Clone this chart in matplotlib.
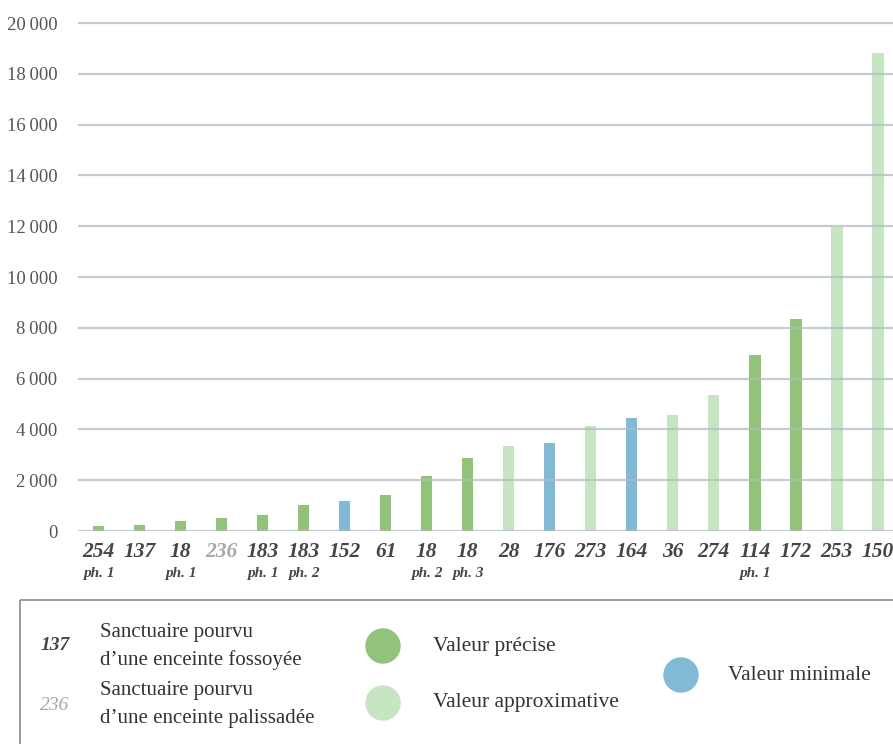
import matplotlib
matplotlib.use("Agg")
import matplotlib.pyplot as plt
from matplotlib.patches import Circle, Rectangle
import matplotlib.transforms as mtransforms

# ---------- Data ----------
sites = ["254", "137", "18", "236", "183", "183", "152", "61", "18", "18",
         "28", "176", "273", "164", "36", "274", "114", "172", "253", "150"]
phases = ["ph. 1", "", "ph. 1", "", "ph. 1", "ph. 2", "", "", "ph. 2", "ph. 3",
          "", "", "", "", "", "", "ph. 1", "", "", ""]
values = [200, 250, 380, 500, 630, 1010, 1170, 1420, 2185, 2890,
          3350, 3470, 4140, 4440, 4560, 5355, 6915, 8330, 11970, 18830]
kinds = ["precise", "precise", "precise", "precise", "precise", "precise", "minimal", "precise",
         "precise", "precise", "approx", "minimal", "approx", "minimal", "approx", "approx",
         "precise", "precise", "approx", "approx"]
enclosure = ["fossoyee", "fossoyee", "fossoyee", "palissadee"] + ["fossoyee"] * 16
yticks = [0, 2000, 4000, 6000, 8000, 10000, 12000, 14000, 16000, 18000, 20000]
# --------------------------

COLORS = {"precise": "#91c47a", "approx": "#c6e6c1", "minimal": "#80bad4"}
LABEL_COLORS = {"fossoyee": "#454545", "palissadee": "#a8a8a8"}
FONT = ["Liberation Serif", "DejaVu Serif"]
plt.rcParams["font.family"] = FONT

W, H = 893, 744
fig = plt.figure(figsize=(W / 100, H / 100), dpi=100)

y0_px, ytop_val = 531, 20200
px_per_unit = (531 - 23) / 20000
top_px = y0_px - ytop_val * px_per_unit
ax = fig.add_axes([78 / W, 1 - y0_px / H, 1 - 78 / W, (y0_px - top_px) / H])

x = list(range(len(values)))
ax.bar(x, values, width=0.28, color=[COLORS[k] for k in kinds], zorder=2)
ax.set_xlim(-0.5, 19.37)
ax.set_ylim(0, ytop_val)

for v in yticks:
    ax.axhline(v, color="#b4bac0", lw=1.6, alpha=0.75, zorder=3)

ax.set_yticks(yticks)
ax.set_yticklabels([f"{v:,}".replace(",", "\u2009") for v in yticks],
                   fontsize=13.5, color="#555555")
ax.tick_params(axis="y", length=0, pad=15)
ax.set_xticks([])
for s in ax.spines.values():
    s.set_visible(False)

trans = mtransforms.blended_transform_factory(ax.transData, ax.transAxes)
for i, (s, ph, enc) in enumerate(zip(sites, phases, enclosure)):
    t = ax.text(i, 0, s, ha="center", va="center",
                fontsize=15.5, fontweight="bold", fontstyle="italic",
                color=LABEL_COLORS[enc])
    t.set_transform(trans + mtransforms.ScaledTranslation(0, -21 / 100, fig.dpi_scale_trans))
    if ph:
        t2 = ax.text(i, 0, ph, ha="center", va="center", fontsize=11,
                     fontweight="bold", fontstyle="italic", color="#454545")
        t2.set_transform(trans + mtransforms.ScaledTranslation(0, -43 / 100, fig.dpi_scale_trans))

# ---------- Legend box ----------
lax = fig.add_axes([0, 0, 1, 1], zorder=-1)
lax.set_xlim(0, W)
lax.set_ylim(H, 0)
lax.axis("off")
lax.add_patch(Rectangle((20, 600), W, 200, fill=False, edgecolor="#8a8a8a", lw=1.2))

lax.text(55, 645, "137", ha="center", va="center", fontsize=14, fontweight="bold",
         fontstyle="italic", color=LABEL_COLORS["fossoyee"])
lax.text(100, 632, "Sanctuaire pourvu", va="center", fontsize=15, color="#333333")
lax.text(100, 660, "d\u2019une enceinte fossoyée", va="center", fontsize=15, color="#333333")
lax.text(55, 705, "236", ha="center", va="center", fontsize=14,
         fontstyle="italic", color=LABEL_COLORS["palissadee"])
lax.text(100, 690, "Sanctuaire pourvu", va="center", fontsize=15, color="#333333")
lax.text(100, 718, "d\u2019une enceinte palissadée", va="center", fontsize=15, color="#333333")

legend_items = [("precise", "Valeur précise", 383, 646, 433),
                ("approx", "Valeur approximative", 383, 703, 433),
                ("minimal", "Valeur minimale", 681, 675, 728)]
for kind, label, cx, cy, tx in legend_items:
    lax.add_patch(Circle((cx, cy), 17, color=COLORS[kind]))
    lax.text(tx, cy, label, va="center", fontsize=15.5, color="#333333")

fig.savefig("out.png", dpi=100)
